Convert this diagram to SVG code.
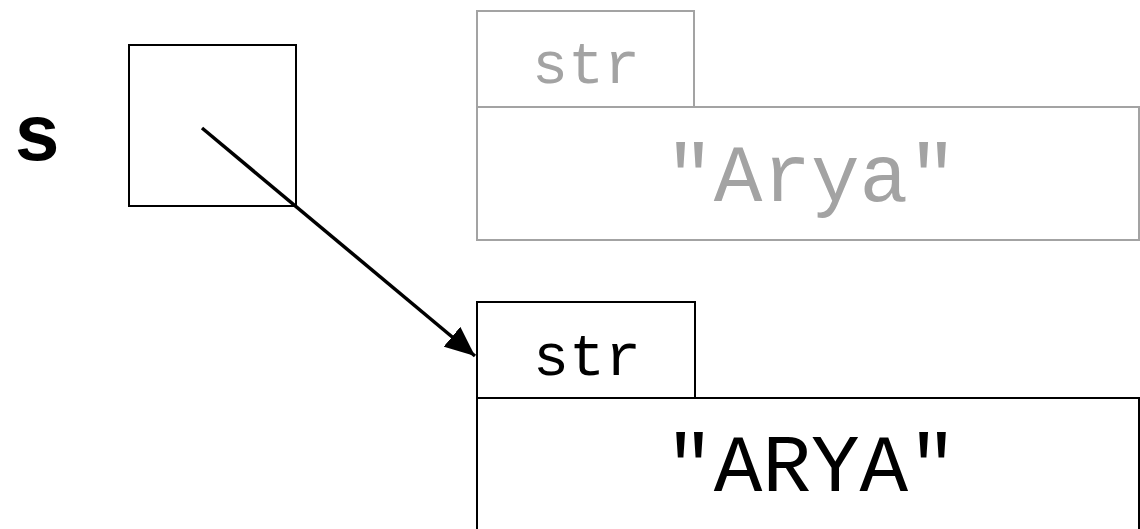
<svg xmlns="http://www.w3.org/2000/svg" width="1140" height="529" viewBox="0 0 1140 529">
<style>
.box{fill:none;stroke:#000;stroke-width:2}
.gbox{fill:none;stroke:#a3a3a3;stroke-width:2}
.t{font-family:"Liberation Mono","Courier New",monospace;text-anchor:middle;fill:#000}
.g{fill:#a3a3a3}
</style>
<defs>
<marker id="ah" markerWidth="30" markerHeight="26" refX="30" refY="13" orient="auto" markerUnits="userSpaceOnUse" viewBox="0 0 30 26">
<path d="M0,0 L30,13 L0,26 z" fill="#000"/>
</marker>
</defs>
<g id="var-s">
<text class="t" x="37" y="160" font-size="80" font-weight="bold">s</text>
<rect class="box" x="129" y="45" width="167" height="161"/>
</g>
<g id="old-str">
<rect class="gbox" x="477" y="11" width="217" height="96"/>
<rect class="gbox" x="477" y="107" width="662" height="133"/>
<text class="t g" x="586" y="83" font-size="60">str</text>
<text class="t g" x="811" y="201" font-size="81">"Arya"</text>
</g>
<g id="new-str">
<rect class="box" x="477" y="302" width="218" height="96"/>
<rect class="box" x="477" y="398" width="662" height="150"/>
<text class="t" x="587" y="375" font-size="60">str</text>
<text class="t" x="811" y="491" font-size="81">"ARYA"</text>
</g>
<g id="connectors">
<line x1="202" y1="128" x2="475" y2="356" stroke="#000" stroke-width="3.5" marker-end="url(#ah)"/>
</g>
</svg>
